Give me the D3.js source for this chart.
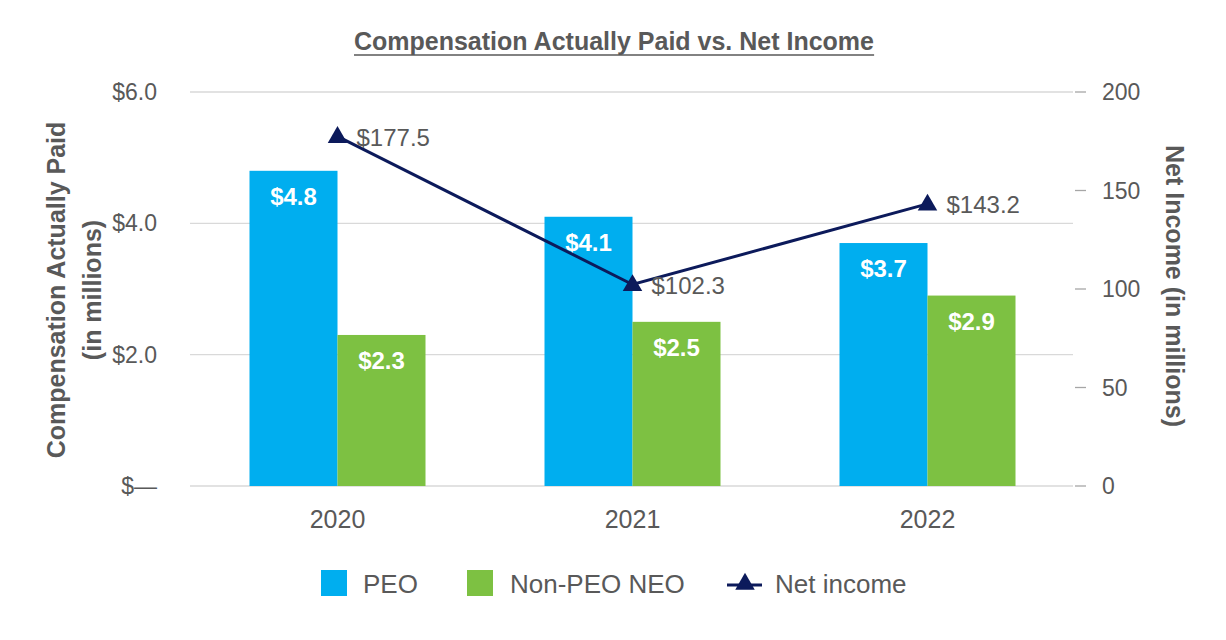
<!DOCTYPE html>
<html><head><meta charset="utf-8">
<script src="https://cdn.jsdelivr.net/npm/d3@7"></script>
<style>body{margin:0;background:#fff;font-family:"Liberation Sans",Arial,Helvetica,sans-serif;}</style>
</head><body><svg id="c" width="1226" height="640"></svg>
<script>
const years = ["2020","2021","2022"];
const peo = [4.8, 4.1, 3.7];
const nonPeo = [2.3, 2.5, 2.9];
const netIncome = [177.5, 102.3, 143.2];
const leftTicks = [0, 2, 4, 6];
const rightTicks = [0, 50, 100, 150, 200];

const svg = d3.select("#c");
const gray = "#595959";
const x0 = 190, x1 = 1075, yTop = 92, yBot = 486;
const x = d3.scaleBand().domain(years).range([x0, x1]).paddingInner(0).paddingOuter(0);
const yL = d3.scaleLinear().domain([0, 6]).range([yBot, yTop]);
const yR = d3.scaleLinear().domain([0, 200]).range([yBot, yTop]);
const barW = 88;

// gridlines
svg.append("g").selectAll("line").data(leftTicks).join("line")
  .attr("x1", x0).attr("x2", x1 - 2).attr("y1", d => yL(d)).attr("y2", d => yL(d))
  .attr("stroke", "#d9d9d9").attr("stroke-width", 1.3);

// left axis labels
svg.append("g").selectAll("text").data(leftTicks).join("text")
  .attr("x", 157).attr("y", d => yL(d)).attr("dy", "0.35em").attr("text-anchor", "end")
  .attr("fill", gray).attr("font-size", 23)
  .text(d => d === 0 ? "$—" : "$" + d.toFixed(1));

// right axis ticks and labels
const rg = svg.append("g");
rg.selectAll("line").data(rightTicks).join("line")
  .attr("x1", 1075).attr("x2", 1086).attr("y1", d => yR(d)).attr("y2", d => yR(d))
  .attr("stroke", "#a6a6a6").attr("stroke-width", 1.3);
rg.selectAll("text").data(rightTicks).join("text")
  .attr("x", 1102).attr("y", d => yR(d)).attr("dy", "0.35em")
  .attr("fill", gray).attr("font-size", 23).text(d => d);

// bars
const bars = svg.append("g");
bars.selectAll("rect.peo").data(years).join("rect")
  .attr("x", d => x(d) + x.bandwidth()/2 - barW).attr("width", barW)
  .attr("y", (d,i) => yL(peo[i])).attr("height", (d,i) => yBot - yL(peo[i]))
  .attr("fill", "#00AEEF");
bars.selectAll("rect.np").data(years).join("rect")
  .attr("x", d => x(d) + x.bandwidth()/2).attr("width", barW)
  .attr("y", (d,i) => yL(nonPeo[i])).attr("height", (d,i) => yBot - yL(nonPeo[i]))
  .attr("fill", "#7DC142");
bars.selectAll("text.peo").data(years).join("text")
  .attr("x", d => x(d) + x.bandwidth()/2 - barW/2).attr("y", (d,i) => yL(peo[i]) + 34)
  .attr("text-anchor", "middle").attr("fill", "#fff").attr("font-weight", "bold").attr("font-size", 24)
  .text((d,i) => "$" + peo[i].toFixed(1));
bars.selectAll("text.np").data(years).join("text")
  .attr("x", d => x(d) + x.bandwidth()/2 + barW/2).attr("y", (d,i) => yL(nonPeo[i]) + 34)
  .attr("text-anchor", "middle").attr("fill", "#fff").attr("font-weight", "bold").attr("font-size", 24)
  .text((d,i) => "$" + nonPeo[i].toFixed(1));

// x labels
svg.append("g").selectAll("text").data(years).join("text")
  .attr("x", d => x(d) + x.bandwidth()/2).attr("y", 528).attr("text-anchor", "middle")
  .attr("fill", gray).attr("font-size", 25).text(d => d);

// line
const navy = "#0c1a5b";
const line = d3.line().x((d,i) => x(years[i]) + x.bandwidth()/2).y(d => yR(d));
svg.append("path").datum(netIncome).attr("d", line).attr("fill", "none")
  .attr("stroke", navy).attr("stroke-width", 3);
const tri = d3.symbol().type(d3.symbolTriangle).size(165);
svg.append("g").selectAll("path").data(netIncome).join("path")
  .attr("d", tri).attr("fill", navy)
  .attr("transform", (d,i) => `translate(${x(years[i]) + x.bandwidth()/2},${yR(d) + 1})`);
svg.append("g").selectAll("text").data(netIncome).join("text")
  .attr("x", (d,i) => x(years[i]) + x.bandwidth()/2 + 19).attr("y", d => yR(d) + 1).attr("dy", "0.35em")
  .attr("fill", gray).attr("font-size", 24).text(d => "$" + d.toFixed(1));

// title
const title = svg.append("text").attr("x", 614).attr("y", 50).attr("text-anchor", "middle")
  .attr("fill", gray).attr("font-weight", "bold").attr("font-size", 25)
  .text("Compensation Actually Paid vs. Net Income");
const tb = title.node().getBBox();
svg.append("line").attr("x1", tb.x).attr("x2", tb.x + tb.width).attr("y1", 55).attr("y2", 55)
  .attr("stroke", gray).attr("stroke-width", 1.6);

// left axis title
const lt = svg.append("text").attr("transform", "translate(0,290) rotate(-90)")
  .attr("text-anchor", "middle").attr("fill", gray).attr("font-weight", "bold").attr("font-size", 25);
lt.append("tspan").attr("x", 0).attr("y", 65).text("Compensation Actually Paid");
lt.append("tspan").attr("x", 0).attr("y", 101).text("(in millions)");

// right axis title
svg.append("text").attr("transform", "translate(1166,286) rotate(90)")
  .attr("text-anchor", "middle").attr("fill", gray).attr("font-weight", "bold").attr("font-size", 25)
  .text("Net Income (in millions)");

// legend
const lg = svg.append("g");
lg.append("rect").attr("x", 321).attr("y", 570).attr("width", 26).attr("height", 26).attr("fill", "#00AEEF");
lg.append("text").attr("x", 363).attr("y", 593).attr("fill", gray).attr("font-size", 26).text("PEO");
lg.append("rect").attr("x", 467).attr("y", 570).attr("width", 26).attr("height", 26).attr("fill", "#7DC142");
lg.append("text").attr("x", 510).attr("y", 593).attr("fill", gray).attr("font-size", 26).text("Non-PEO NEO");
lg.append("line").attr("x1", 727).attr("x2", 762).attr("y1", 585).attr("y2", 585).attr("stroke", navy).attr("stroke-width", 3);
lg.append("path").attr("d", tri).attr("fill", navy).attr("transform", "translate(745,584)");
lg.append("text").attr("x", 775).attr("y", 593).attr("fill", gray).attr("font-size", 26).text("Net income");
</script></body></html>
